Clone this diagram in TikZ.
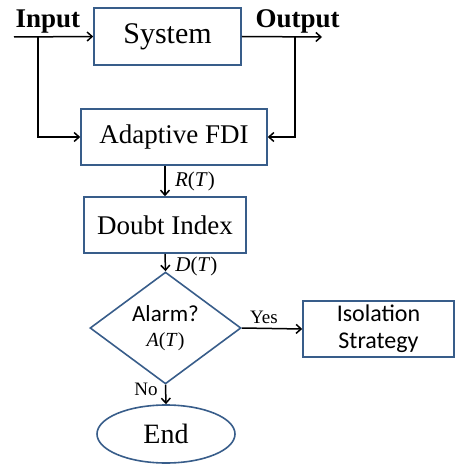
\documentclass[tikz,border=0pt]{standalone}
\usepackage{fontspec}
\setmainfont{Liberation Serif}
\newfontfamily\calib{Carlito}
\usepackage{tikz}
\usetikzlibrary{positioning,shapes,calc,arrows.meta}
\definecolor{boxblue}{RGB}{56,93,138}
\tikzset{
  blockbox/.style={draw=boxblue,line width=1.6pt,rectangle,inner sep=0pt,font=\fontsize{27}{29}\selectfont},
  decbox/.style={draw=boxblue,line width=1.6pt,diamond,inner sep=0pt,align=center,font=\fontsize{23}{25}\selectfont},
  endbox/.style={draw=boxblue,line width=1.6pt,ellipse,inner sep=0pt,font=\fontsize{28}{30}\selectfont},
  flow/.style={line width=1.5pt,-{Straight Barb[length=5pt,width=9pt,line width=1.5pt]}},
  sig/.style={font=\fontsize{21}{23}\selectfont},
  tag/.style={font=\fontsize{19}{21}\selectfont}
}
\begin{document}
\begin{tikzpicture}[x=1pt,y=-1pt]
  \useasboundingbox (0,0) rectangle (456,465);
  % blocks
  \node[blockbox,minimum width=147pt,minimum height=57pt,font=\fontsize{30}{32}\selectfont] (sys) at (167.5,36.5) {System};
  \node[blockbox,minimum width=186pt,minimum height=56pt] (fdi) at (174,137) {Adaptive FDI};
  \node[blockbox,minimum width=162pt,minimum height=56pt] (doubt) at (165,225) {Doubt Index};
  \node[decbox,minimum width=151pt,minimum height=84pt] (alarm) at (165.5,328)
       {{\calib Alarm?}\\{\fontsize{20}{22}\selectfont\textit{A}(\textit{T})}};
  \node[blockbox,minimum width=151pt,minimum height=56pt,align=center,font=\calib\fontsize{24}{27}\selectfont] (iso) at (378.5,329) {Isolation\\Strategy};
  \node[endbox,minimum width=138pt,minimum height=58pt] (endn) at (166,434) {End};
  % signals
  \node[anchor=base west,font=\bfseries\fontsize{27}{29}\selectfont] (inlbl) at (12,28) {Input};
  \node[anchor=base west,font=\bfseries\fontsize{27}{29}\selectfont] (outlbl) at (252,28) {Output};
  \coordinate (instart) at (14,37);
  \coordinate (injoin) at (38,37);
  \coordinate (outjoin) at (295,37);
  \coordinate (outend) at (322,37);
  % connectors
  \draw[flow] (instart) -- (sys.west);
  \draw[flow] (injoin) |- (fdi.west);
  \draw[flow] (sys.east) -- (outend);
  \draw[flow] (outjoin) |- (fdi.east);
  \draw[flow] (doubt.north |- fdi.south) -- node[sig,midway,right,xshift=6pt] {\textit{R}(\textit{T})} (doubt.north);
  \draw[flow] (doubt.south) -- node[sig,midway,right,xshift=6pt,yshift=-4pt] {\textit{D}(\textit{T})} (alarm.north);
  \draw[flow] (alarm.east) -- node[tag,midway,above,xshift=-8pt,yshift=1pt] {Yes} (iso.west);
  \draw[flow] (alarm.south) -- node[tag,midway,left,xshift=-4pt,yshift=5pt] {No} (endn.north);
\end{tikzpicture}
\end{document}
